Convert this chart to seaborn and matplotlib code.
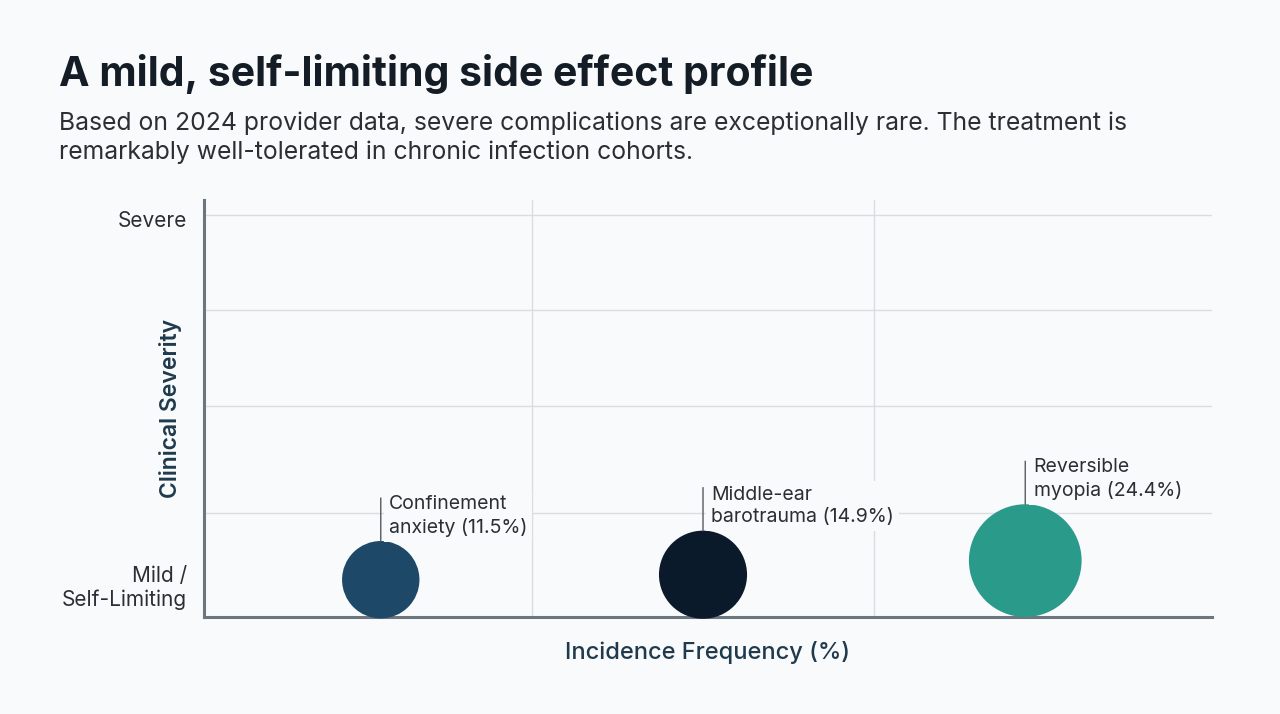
import numpy as np
import pandas as pd
import seaborn as sns
import matplotlib.pyplot as plt

# data
effects = ['Confinement\nanxiety', 'Middle-ear\nbarotrauma', 'Reversible\nmyopia']
incidence = [11.5, 14.9, 24.4]
severity = [0.37, 0.42, 0.56]   # all near the "mild" end
colors = ['#1d4868', '#0b1a2b', '#2a9a8b']

title = 'A mild, self-limiting side effect profile'
subtitle = ('Based on 2024 provider data, severe complications are exceptionally rare. The treatment is\n'
            'remarkably well-tolerated in chronic infection cohorts.')

df = pd.DataFrame({'effect': effects, 'incidence': incidence, 'severity': severity})

bg = '#f9fafb'
sns.set_theme(style='white')
plt.rcParams['font.family'] = ['Inter', 'DejaVu Sans']

fig = plt.figure(figsize=(12.8, 7.14), dpi=100, facecolor=bg)
ax = fig.add_axes([0.159, 0.136, 0.788, 0.584], facecolor=bg)

size_per_pct = 270.0
sns.scatterplot(data=df, x='effect', y='severity', hue='effect', size='incidence',
                palette=dict(zip(effects, colors)),
                sizes=(min(incidence) * size_per_pct, max(incidence) * size_per_pct),
                size_norm=(min(incidence), max(incidence)),
                linewidth=0, alpha=1, legend=False, ax=ax, zorder=3, clip_on=False)

ax.set_xlim(-0.55, 2.58)
ax.set_ylim(0, 4.15)

# grid
ax.set_xticks([])
ax.set_xticks([0.47, 1.53], minor=True)
ax.set_yticks([0.32, 3.96])
ax.set_yticklabels(['Mild /\nSelf-Limiting', 'Severe'], fontsize=15, color='#2b2f33', ha='right')
ax.set_yticks([1.03, 2.1, 3.05, 4], minor=True)
ax.yaxis.remove_overlapping_locs = False
ax.grid(False)
ax.grid(which='minor', color='#d9dde0', linewidth=1)
ax.tick_params(axis='both', which='both', length=0)
ax.tick_params(axis='y', pad=12)
for t in ax.get_yticklabels():
    t.set_multialignment('right')

for s in ['top', 'right']:
    ax.spines[s].set_visible(False)
for s in ['left', 'bottom']:
    ax.spines[s].set_color('#6c767f')
    ax.spines[s].set_linewidth(2.2)

ax.set_xlabel('Incidence Frequency (%)', fontsize=17, color='#1f3a4d', fontweight='medium', labelpad=14)
ax.set_ylabel('Clinical Severity', fontsize=16.5, color='#1f3a4d', fontweight='semibold')
ax.yaxis.set_label_coords(-0.021, 0.5)

# labels with leader lines
for i, row in df.iterrows():
    r_pt = np.sqrt(row['incidence'] * size_per_pct) / 2
    ax.annotate('', xy=(i, row['severity']), xytext=(0, r_pt + 31), textcoords='offset points',
                arrowprops=dict(arrowstyle='-', color='#555b60', lw=1, shrinkA=0, shrinkB=r_pt),
                zorder=4)
    ax.annotate(f"{row['effect']} ({row['incidence']}%)", xy=(i, row['severity']),
                xytext=(6, r_pt + 3), textcoords='offset points', ha='left', va='bottom',
                fontsize=14, color='#2b2f33', linespacing=1.35, zorder=5,
                bbox=dict(boxstyle='square,pad=0.25', fc=bg, ec='none'))

fig.text(0.046, 0.897, title, fontsize=29.5, fontweight='bold', color='#141c26', va='center')
fig.text(0.046, 0.807, subtitle, fontsize=17.8, color='#2b2f33', va='center', linespacing=1.3)

fig.savefig('out.png', dpi=100, facecolor=bg)
